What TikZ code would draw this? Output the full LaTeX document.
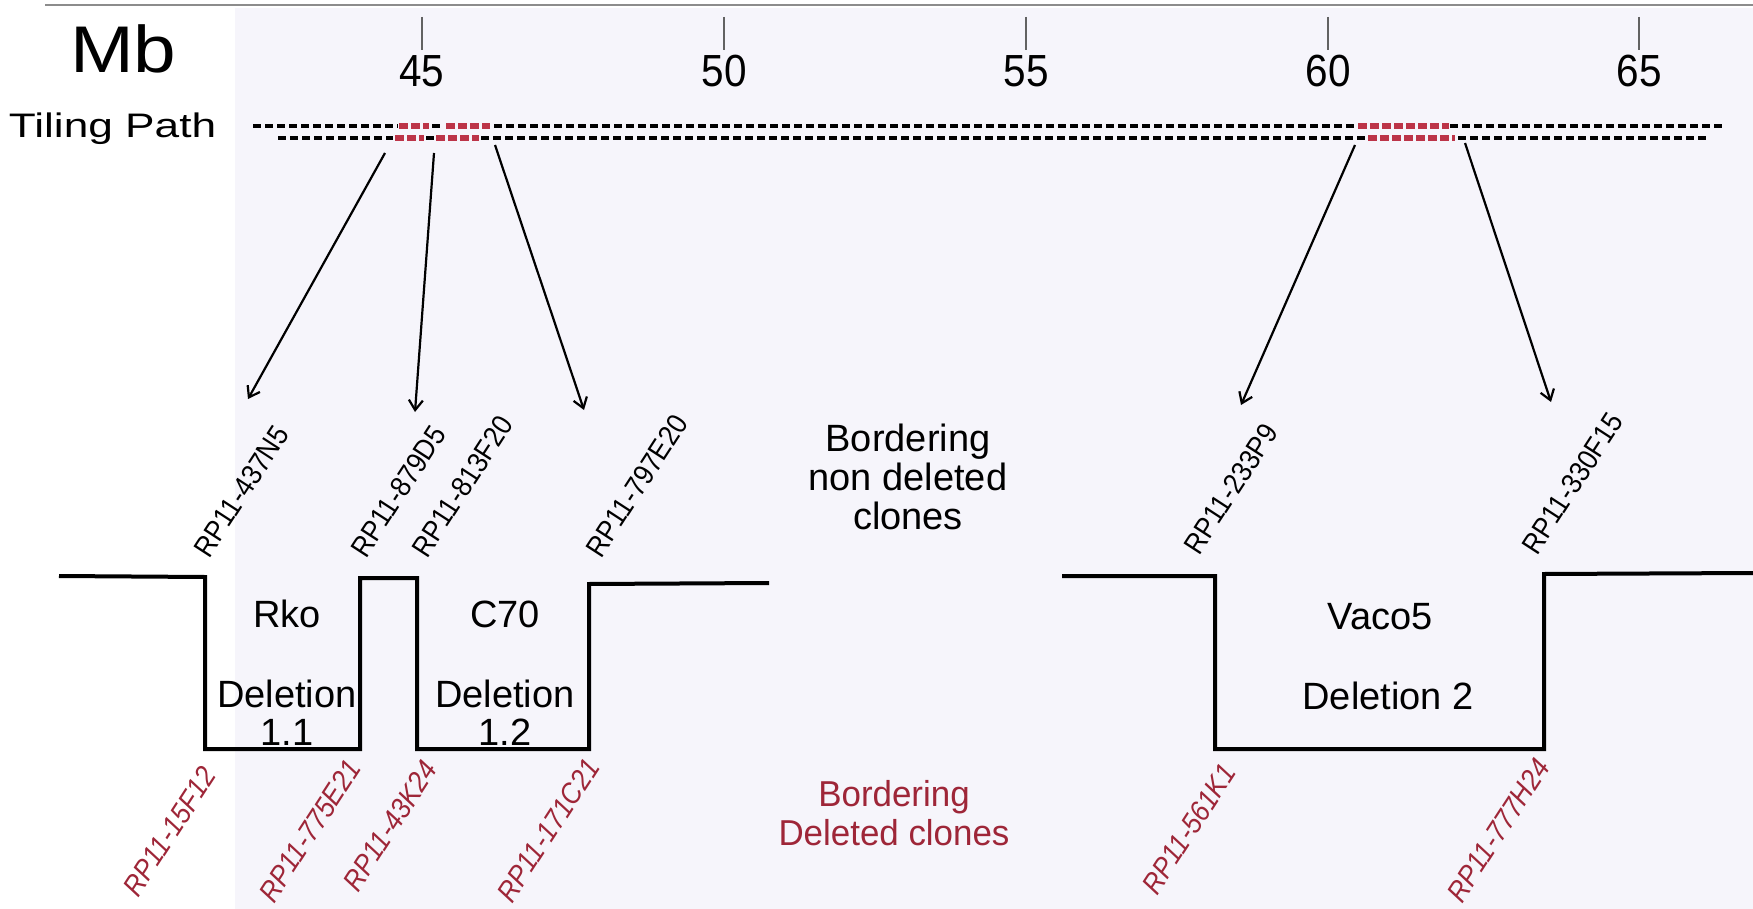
\documentclass[tikz,border=0pt]{standalone}
\usepackage{fontspec}
\setmainfont{Liberation Sans}
\newfontfamily\mbfont[FakeStretch=1.16]{Liberation Sans}
\newfontfamily\tilefont[FakeStretch=1.3]{Liberation Sans}
\newfontfamily\scalefont[FakeStretch=0.9]{Liberation Sans}
\newfontfamily\bodyfont{Liberation Sans}
\newfontfamily\redfont[FakeStretch=0.97]{Liberation Sans}
\newfontfamily\clonefont[FakeStretch=0.9]{Liberation Sans}
\newfontfamily\clonefontit[FakeStretch=0.9]{Liberation Sans Italic}
\usetikzlibrary{arrows.meta}

\definecolor{cloneRed}{RGB}{158,38,56}
\definecolor{tileRed}{RGB}{188,52,72}
\definecolor{paper}{RGB}{246,245,251}
\definecolor{rulegray}{RGB}{140,140,140}

\tikzset{
  txt/.style={inner sep=0pt, outer sep=0pt},
  bodytext/.style={txt, anchor=base, font=\bodyfont\fontsize{38}{38}\selectfont},
  redtext/.style={txt, anchor=base, text=cloneRed, font=\redfont\fontsize{36}{36}\selectfont},
  ticklabel/.style={txt, anchor=base, font=\scalefont\fontsize{45}{45}\selectfont},
  clonelabel/.style={txt, anchor=base west, rotate=57, font=\clonefont\fontsize{29}{29}\selectfont},
  delclone/.style={txt, anchor=base west, rotate=57, text=cloneRed, font=\clonefontit\fontsize{29}{29}\selectfont},
  tiling/.style={line width=4pt, dash pattern=on 8pt off 4pt},
  tilingred/.style={line width=6pt, dash pattern=on 9pt off 3pt, tileRed},
  tickmark/.style={line width=1.3pt, rulegray!70!black},
  pointer/.style={line width=2.2pt, -{Straight Barb[length=10pt,width=14pt,line width=2.2pt]}},
  profile/.style={line width=4pt, line join=miter},
}

\begin{document}
\begin{tikzpicture}[x=1pt,y=-1pt]
  % page and faint paper tint
  \useasboundingbox (0,0) rectangle (1753,909);
  \fill[white] (0,0) rectangle (1753,909);
  \fill[paper] (235,8) rectangle (1753,909);
  \draw[line width=2pt, rulegray] (45,5) -- (1753,5);

  % scale in megabases
  \node[txt, anchor=base west, font=\mbfont\fontsize{66}{66}\selectfont] (mb) at (70,73) {Mb};
  \foreach \x/\v in {422/45, 724/50, 1026/55, 1328/60, 1639/65}{
    \coordinate (tt\v) at (\x,17);
    \coordinate (tb\v) at (\x,50);
    \draw[tickmark] (tt\v) -- (tb\v);
    \node[ticklabel] (lab\v) at (\x,87) {\v};
  }

  % tiling path of BAC clones
  \node[txt, anchor=base west, font=\tilefont\fontsize{34}{34}\selectfont] (tp) at (9,138) {Tiling Path};
  % upper row
  \draw[tiling]    (253,126) -- (398,126);
  \draw[tilingred] (399,126) -- (429,126);
  \draw[tiling]    (432,126) -- (442,126);
  \draw[tilingred] (446,126) -- (490,126);
  \draw[tiling]    (494,126) -- (1356,126);
  \draw[tilingred] (1358,126) -- (1449,126);
  \draw[tiling]    (1450,126) -- (1722,126);
  % lower row
  \draw[tiling]    (278,138) -- (393,138);
  \draw[tilingred] (395,138) -- (424,138);
  \draw[tiling]    (426,138) -- (434,138);
  \draw[tilingred] (436,138) -- (479,138);
  \draw[tiling]    (481,138) -- (1366,138);
  \draw[tilingred] (1368,138) -- (1455,138);
  \draw[tiling]    (1458,138) -- (1707,138);

  % pointers from the tiling path down to the breakpoints
  \coordinate (p1s) at (385,153);  \coordinate (p1e) at (248,399);
  \coordinate (p2s) at (434,153);  \coordinate (p2e) at (415,412);
  \coordinate (p3s) at (495,145);  \coordinate (p3e) at (584,410);
  \coordinate (p4s) at (1355,145); \coordinate (p4e) at (1241,405);
  \coordinate (p5s) at (1465,143); \coordinate (p5e) at (1551,402);
  \draw[pointer] (p1s) -- (p1e);
  \draw[pointer] (p2s) -- (p2e);
  \draw[pointer] (p3s) -- (p3e);
  \draw[pointer] (p4s) -- (p4e);
  \draw[pointer] (p5s) -- (p5e);

  % copy-number profile with the deletions
  \draw[profile] (59,576) -- (205,577) -- (205,749) -- (360,749) -- (360,578)
    -- (417,578) -- (417,749) -- (589,749) -- (589,584) -- (769,583);
  \draw[profile] (1062,576) -- (1215,576) -- (1215,749) -- (1544,749)
    -- (1544,574) -- (1753,573);

  % deletion labels
  \node[bodytext] (rko)  at (287,627) {Rko};
  \node[bodytext] (d11a) at (287,707) {Deletion};
  \node[bodytext] (d11b) at (287,745) {1.1};
  \node[bodytext] (c70)  at (505,627) {C70};
  \node[bodytext] (d12a) at (505,707) {Deletion};
  \node[bodytext] (d12b) at (505,745) {1.2};
  \node[bodytext] (vaco) at (1380,629) {Vaco5};
  \node[bodytext] (d2)   at (1388,709) {Deletion 2};

  % legends
  \node[bodytext] (nd1) at (908,451) {Bordering};
  \node[bodytext] (nd2) at (908,490) {non deleted};
  \node[bodytext] (nd3) at (908,529) {clones};
  \node[redtext] (dc1) at (894,806) {Bordering};
  \node[redtext] (dc2) at (894,845) {Deleted clones};

  % bordering non deleted clones
  \node[clonelabel] (n437)  at (209,559)  {RP11-437N5};
  \node[clonelabel] (n879)  at (366,559)  {RP11-879D5};
  \node[clonelabel] (n813)  at (427,559)  {RP11-813F20};
  \node[clonelabel] (n797)  at (601,559)  {RP11-797E20};
  \node[clonelabel] (n233)  at (1199,556) {RP11-233P9};
  \node[clonelabel] (n330)  at (1537,556) {RP11-330F15};

  % bordering deleted clones
  \node[delclone] (r15)  at (138,898)  {RP11-15F12};
  \node[delclone] (r775) at (274,904)  {RP11-775E21};
  \node[delclone] (r43)  at (358,893)  {RP11-43K24};
  \node[delclone] (r171) at (512,904)  {RP11-171C21};
  \node[delclone] (r561) at (1157,896) {RP11-561K1};
  \node[delclone] (r777) at (1462,904) {RP11-777H24};
\end{tikzpicture}
\end{document}
